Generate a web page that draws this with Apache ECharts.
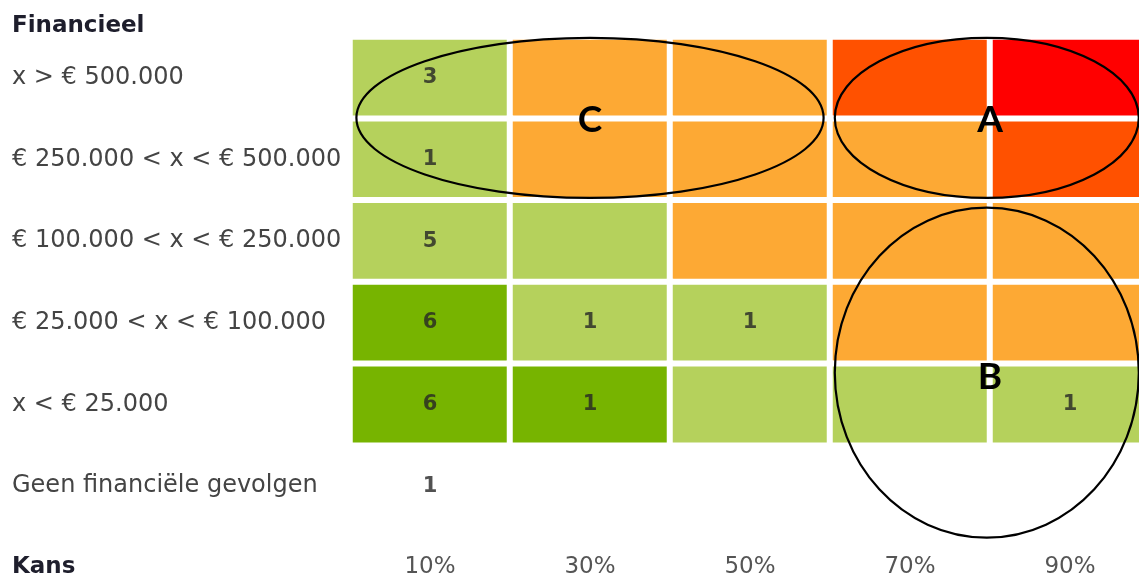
<!DOCTYPE html>
<html>
<head>
<meta charset="utf-8">
<script src="https://cdn.jsdelivr.net/npm/echarts@6/dist/echarts.min.js"></script>
<style>
  html, body { margin: 0; padding: 0; background: #fff; }
  #chart { width: 1139px; height: 576px; }
</style>
</head>
<body>
<div id="chart"></div>
<script>
// ---- Data ----
const kansLabels = ['10%', '30%', '50%', '70%', '90%'];
const financieelLabels = [
  'x > € 500.000',
  '€ 250.000 < x < € 500.000',
  '€ 100.000 < x < € 250.000',
  '€ 25.000 < x < € 100.000',
  'x < € 25.000',
  'Geen financiële gevolgen'
];
// risk level per cell (0 dark green, 1 light green, 2 orange, 3 dark orange, 4 red), rows top to bottom
const riskRow1 = [1, 2, 2, 3, 4];
const riskRow2 = [1, 2, 2, 2, 3];
const riskRow3 = [1, 1, 2, 2, 2];
const riskRow4 = [0, 1, 1, 2, 2];
const riskRow5 = [0, 0, 1, 1, 1];
const riskRows = [riskRow1, riskRow2, riskRow3, riskRow4, riskRow5];
const riskColors = ['#77b400', '#b5d15c', '#fda934', '#ff5100', '#ff0000'];
// counts per cell, rows top to bottom (null = empty)
const countRow1 = [3, null, null, null, null];
const countRow2 = [1, null, null, null, null];
const countRow3 = [5, null, null, null, null];
const countRow4 = [6, 1, 1, null, null];
const countRow5 = [6, 1, null, null, 1];
const countRow6 = [1, null, null, null, null];
const countRows = [countRow1, countRow2, countRow3, countRow4, countRow5, countRow6];
// annotation ellipses in cell units (column index, row index)
const annotationNames = ['C', 'A', 'B'];
const annotationCenters = [[1.0, 0.49], [3.48, 0.49], [3.48, 3.61]];
const annotationRadii = [[1.46, 0.98], [0.95, 0.98], [0.95, 2.02]];
const annotationLabelPos = [[1.0, 0.52], [3.5, 0.52], [3.5, 3.66]];

// ---- Build series data ----
const heatData = [];
riskRows.forEach((row, r) => row.forEach((lvl, c) => heatData.push([c, r, lvl])));
const countData = [];
countRows.forEach((row, r) => row.forEach((v, c) => { if (v !== null) countData.push([c, r, v]); }));

const FONT = 'DejaVu Sans';
const chart = echarts.init(document.getElementById('chart'), null, { renderer: 'canvas' });

chart.setOption({
  animation: false,
  backgroundColor: '#ffffff',
  title: [
    { text: 'Financieel', left: 12, top: 15, padding: 0,
      textStyle: { fontFamily: FONT, fontSize: 23, fontWeight: 'bold', color: '#1e1e2c' } },
    { text: 'Kans', left: 12, top: 556, padding: 0,
      textStyle: { fontFamily: FONT, fontSize: 23, fontWeight: 'bold', color: '#1e1e2c' } }
  ],
  grid: { left: 350, top: 37, width: 800, height: 490, outerBoundsMode: 'none', containLabel: false },
  xAxis: {
    type: 'category', data: kansLabels, position: 'bottom',
    axisLine: { show: false }, axisTick: { show: false }, splitLine: { show: false },
    axisLabel: { fontFamily: FONT, fontSize: 23, color: '#555555', margin: 29 }
  },
  yAxis: {
    type: 'category', data: financieelLabels, inverse: true,
    axisLine: { show: false }, axisTick: { show: false }, splitLine: { show: false },
    axisLabel: { fontFamily: FONT, fontSize: 24, color: '#444444', align: 'left', margin: 338 }
  },
  visualMap: {
    show: false, type: 'piecewise', seriesIndex: 0, dimension: 2,
    pieces: riskColors.map((col, i) => ({ value: i, color: col }))
  },
  series: [
    {
      type: 'heatmap', data: heatData,
      itemStyle: { borderColor: '#ffffff', borderWidth: 6 },
      label: { show: false },
      emphasis: { disabled: true }
    },
    {
      type: 'scatter', data: countData, symbolSize: 1,
      itemStyle: { color: 'rgba(0,0,0,0)' },
      label: {
        show: true, position: 'inside',
        formatter: p => String(p.value[2]),
        fontFamily: FONT, fontSize: 21, fontWeight: 'bold', color: '#262626'
      },
      z: 5
    }
  ]
});

// ---- annotations (ellipses + letters) placed through the axes ----
const x0 = chart.convertToPixel({ xAxisIndex: 0 }, 0);
const x1 = chart.convertToPixel({ xAxisIndex: 0 }, 1);
const y0 = chart.convertToPixel({ yAxisIndex: 0 }, 0);
const y1 = chart.convertToPixel({ yAxisIndex: 0 }, 1);
const sx = x1 - x0, sy = y1 - y0;
const px = c => x0 + c * sx;
const py = r => y0 + r * sy;

const graphics = [];
annotationNames.forEach((name, i) => {
  const [cc, cr] = annotationCenters[i];
  const [rc, rr] = annotationRadii[i];
  graphics.push({
    type: 'ellipse', z: 100,
    shape: { cx: px(cc), cy: py(cr), rx: rc * Math.abs(sx), ry: rr * Math.abs(sy) },
    style: { fill: 'none', stroke: '#000000', lineWidth: 2.2 }
  });
  const [lc, lr] = annotationLabelPos[i];
  graphics.push({
    type: 'text', z: 101, x: px(lc), y: py(lr),
    style: {
      text: name, font: 'bold 37px Lato', fill: '#000000',
      textAlign: 'center', textVerticalAlign: 'middle', align: 'center', verticalAlign: 'middle'
    }
  });
});
chart.setOption({ graphic: graphics });
</script>
</body>
</html>
